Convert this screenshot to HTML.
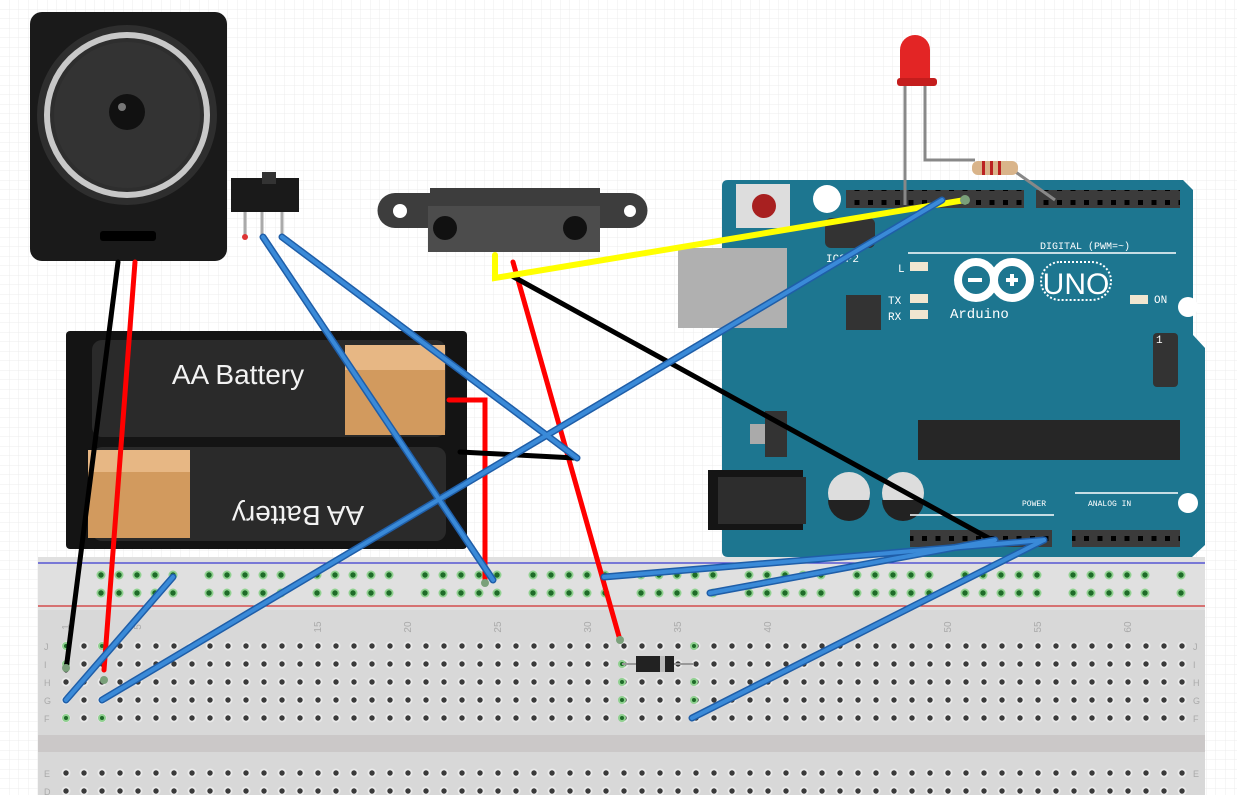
<!DOCTYPE html>
<html><head><meta charset="utf-8"><style>
html,body{margin:0;padding:0;background:#fff;}
svg{display:block;font-family:"Liberation Sans",sans-serif;}
</style></head><body>
<svg width="1237" height="795" viewBox="0 0 1237 795" xmlns="http://www.w3.org/2000/svg">
<defs>
<pattern id="grid" width="9.5" height="9.5" patternUnits="userSpaceOnUse"><path d="M9.5 0V9.5H0" fill="none" stroke="#ececec" stroke-width="1"/></pattern>
<pattern id="holes" x="57" y="637" width="18" height="18" patternUnits="userSpaceOnUse"><circle cx="9" cy="9" r="4.5" fill="#eaeaea"/><circle cx="9" cy="9" r="2.7" fill="#3a3a3a"/></pattern>
<pattern id="rail" x="92" y="566" width="108" height="18" patternUnits="userSpaceOnUse">
<g fill="#8fd08f"><circle cx="9" cy="9" r="4.5"/><circle cx="27" cy="9" r="4.5"/><circle cx="45" cy="9" r="4.5"/><circle cx="63" cy="9" r="4.5"/><circle cx="81" cy="9" r="4.5"/></g>
<g fill="#1e6b28"><circle cx="9" cy="9" r="2.7"/><circle cx="27" cy="9" r="2.7"/><circle cx="45" cy="9" r="2.7"/><circle cx="63" cy="9" r="2.7"/><circle cx="81" cy="9" r="2.7"/></g></pattern>
<pattern id="hdr" x="0" y="0" width="13.5" height="14" patternUnits="userSpaceOnUse"><rect width="13.5" height="14" fill="#3b3b3b"/><rect x="4" y="4" width="5" height="5" fill="#000"/></pattern>
</defs>
<rect width="1237" height="795" fill="url(#grid)"/>

<!-- Breadboard -->
<rect x="38" y="557" width="1167" height="238" fill="#d8d8d8"/>
<rect x="38" y="557" width="1167" height="53" fill="#e0e0e0"/>
<line x1="38" y1="563" x2="1205" y2="563" stroke="#3b3bd0" stroke-width="1.2"/>
<line x1="38" y1="606" x2="1205" y2="606" stroke="#d03030" stroke-width="1.2"/>
<rect x="92" y="566" width="1100" height="36" fill="url(#rail)"/>
<rect x="38" y="735" width="1167" height="17" fill="#cbc8c8"/>
<rect x="57" y="637" width="1135" height="90" fill="url(#holes)"/>
<rect x="57" y="764" width="1135" height="31" fill="url(#holes)" transform="translate(0,1)"/>
<g font-size="10" fill="#aaa" text-anchor="middle">
<text x="66" y="630" transform="rotate(-90 66 627)">1</text>
<text x="138" y="630" transform="rotate(-90 138 627)">5</text>
<text x="318" y="630" transform="rotate(-90 318 627)">15</text>
<text x="408" y="630" transform="rotate(-90 408 627)">20</text>
<text x="498" y="630" transform="rotate(-90 498 627)">25</text>
<text x="588" y="630" transform="rotate(-90 588 627)">30</text>
<text x="678" y="630" transform="rotate(-90 678 627)">35</text>
<text x="768" y="630" transform="rotate(-90 768 627)">40</text>
<text x="948" y="630" transform="rotate(-90 948 627)">50</text>
<text x="1038" y="630" transform="rotate(-90 1038 627)">55</text>
<text x="1128" y="630" transform="rotate(-90 1128 627)">60</text>
</g>
<g font-size="9" fill="#aaa">
<text x="44" y="650">J</text><text x="44" y="668">I</text><text x="44" y="686">H</text><text x="44" y="704">G</text><text x="44" y="722">F</text><text x="44" y="777">E</text><text x="44" y="795">D</text>
<text x="1193" y="650">J</text><text x="1193" y="668">I</text><text x="1193" y="686">H</text><text x="1193" y="704">G</text><text x="1193" y="722">F</text><text x="1193" y="777">E</text>
</g>
<!-- green highlighted holes -->
<g fill="#1e6b28" stroke="#8fd08f" stroke-width="2">
<circle cx="66" cy="646" r="3"/><circle cx="66" cy="664" r="3"/><circle cx="66" cy="718" r="3"/>
<circle cx="102" cy="646" r="3"/><circle cx="102" cy="718" r="3"/>
<circle cx="622" cy="664" r="3"/><circle cx="622" cy="682" r="3"/><circle cx="622" cy="700" r="3"/><circle cx="622" cy="718" r="3"/>
<circle cx="694" cy="646" r="3"/><circle cx="694" cy="682" r="3"/><circle cx="694" cy="700" r="3"/>
</g>

<!-- Speaker -->
<rect x="30" y="12" width="197" height="249" rx="12" fill="#1a1a1a"/>
<circle cx="127" cy="115" r="90" fill="#2e2e2e"/>
<circle cx="127" cy="115" r="80" fill="none" stroke="#c8c8c8" stroke-width="6"/>
<circle cx="127" cy="115" r="73" fill="#333"/>
<circle cx="127" cy="112" r="18" fill="#111"/>
<circle cx="122" cy="107" r="4" fill="#777"/>
<rect x="100" y="231" width="56" height="10" rx="3" fill="#000"/>

<!-- Switch -->
<rect x="231" y="178" width="68" height="34" fill="#1a1a1a"/>
<rect x="262" y="172" width="14" height="12" fill="#333"/>
<g stroke="#aaa" stroke-width="3"><line x1="245" y1="212" x2="245" y2="236"/><line x1="262" y1="212" x2="262" y2="236"/><line x1="282" y1="212" x2="282" y2="236"/></g>
<circle cx="245" cy="237" r="3" fill="#d33"/><circle cx="263" cy="237" r="3" fill="#6a6"/><circle cx="282" cy="237" r="3" fill="#6a6"/>

<!-- Battery pack -->
<rect x="66" y="331" width="401" height="218" rx="4" fill="#141414"/>
<rect x="92" y="340" width="354" height="97" rx="10" fill="#2a2a2a"/>
<rect x="345" y="345" width="100" height="90" fill="#d29a5e"/>
<rect x="345" y="345" width="100" height="25" fill="#e7b784"/>
<rect x="92" y="447" width="354" height="94" rx="10" fill="#2a2a2a"/>
<rect x="88" y="450" width="102" height="88" fill="#d29a5e"/>
<rect x="88" y="450" width="102" height="22" fill="#e7b784"/>
<text x="238" y="384" font-size="28" fill="#f2f2f2" text-anchor="middle">AA Battery</text>
<text x="298" y="488" font-size="28" fill="#f2f2f2" text-anchor="middle" transform="rotate(180 298 497)">AA Battery</text>

<!-- Sensor -->
<path d="M395 193 H430 V188 H600 V193 H630 A13 13 0 0 1 630 228 H600 V252 H430 V228 H395 A17 17 0 0 1 395 193Z" fill="#3d3d3d"/>
<circle cx="400" cy="211" r="7" fill="#fff"/><circle cx="630" cy="211" r="6" fill="#fff"/>
<rect x="428" y="206" width="172" height="46" fill="#4c4c4c"/>
<circle cx="445" cy="228" r="12" fill="#111"/><circle cx="575" cy="228" r="12" fill="#111"/>

<!-- Arduino -->
<path d="M722 186 Q722 180 728 180 H1183 L1193 190 V335 L1205 348 V545 L1192 557 H728 Q722 557 722 551Z" fill="#1d7690"/>
<rect x="736" y="184" width="54" height="44" fill="#ddd"/>
<circle cx="764" cy="206" r="12" fill="#a82020"/>
<rect x="678" y="248" width="109" height="80" fill="#b0b0b0"/>
<circle cx="827" cy="199" r="14" fill="#fff"/>
<circle cx="1188" cy="307" r="10" fill="#fff"/>
<circle cx="1188" cy="503" r="10" fill="#fff"/>
<rect x="846" y="190" width="178" height="18" fill="url(#hdr)"/>
<rect x="1036" y="190" width="144" height="18" fill="url(#hdr)"/>
<rect x="825" y="218" width="50" height="30" rx="6" fill="#333"/>
<rect x="1153" y="333" width="25" height="54" rx="4" fill="#333"/>
<rect x="846" y="295" width="35" height="35" fill="#333"/>
<rect x="765" y="411" width="22" height="46" fill="#333"/>
<rect x="750" y="424" width="15" height="20" fill="#aaa"/>
<rect x="918" y="420" width="262" height="40" fill="#262626"/>
<rect x="708" y="470" width="95" height="60" fill="#151515"/>
<rect x="718" y="477" width="88" height="47" fill="#2d2d2d"/>
<circle cx="849" cy="493" r="21" fill="#ddd"/><path d="M828 500 A21 21 0 0 0 870 500Z" fill="#222"/>
<circle cx="903" cy="493" r="21" fill="#ddd"/><path d="M882 500 A21 21 0 0 0 924 500Z" fill="#222"/>
<rect x="910" y="530" width="142" height="17" fill="url(#hdr)"/>
<rect x="1072" y="530" width="108" height="17" fill="url(#hdr)"/>
<line x1="908" y1="253" x2="1176" y2="253" stroke="#fff" stroke-width="1.5"/>
<line x1="910" y1="515" x2="1054" y2="515" stroke="#fff" stroke-width="1.5"/>
<line x1="1075" y1="493" x2="1178" y2="493" stroke="#fff" stroke-width="1.5"/>
<g fill="#fff" font-family="Liberation Mono,monospace" font-size="10">
<text x="1040" y="249">DIGITAL (PWM=~)</text>
<text x="1022" y="506" font-size="8">POWER</text>
<text x="1088" y="506" font-size="8">ANALOG IN</text>
<text x="898" y="272" font-size="11">L</text><text x="888" y="304" font-size="11">TX</text><text x="888" y="320" font-size="11">RX</text>
<text x="1154" y="303" font-size="11">ON</text>
<text x="1156" y="343" font-size="11">1</text>
<text x="826" y="262" font-size="11">ICSP2</text>
</g>
<g fill="#f0e6d0"><rect x="910" y="262" width="18" height="9"/><rect x="910" y="294" width="18" height="9"/><rect x="910" y="310" width="18" height="9"/><rect x="1130" y="295" width="18" height="9"/></g>
<g fill="#fff">
<circle cx="976" cy="280" r="18" fill="none" stroke="#fff" stroke-width="8"/>
<circle cx="1012" cy="280" r="18" fill="none" stroke="#fff" stroke-width="8"/>
<rect x="968" y="278" width="14" height="4"/><rect x="1006" y="278" width="12" height="4"/><rect x="1010" y="274" width="4" height="12"/>
<rect x="1041" y="262" width="70" height="38" rx="19" fill="none" stroke="#fff" stroke-width="2" stroke-dasharray="2 2"/>
<text x="1076" y="294" font-size="30" text-anchor="middle">UNO</text>
<text x="950" y="318" font-size="14" font-family="Liberation Mono,monospace">Arduino</text>
</g>

<!-- LED & resistor -->
<path d="M905 84 V205 M925 84 V160 H975" stroke="#888" stroke-width="3" fill="none"/>
<line x1="1010" y1="168" x2="1055" y2="200" stroke="#888" stroke-width="3"/>
<rect x="972" y="161" width="46" height="14" rx="6" fill="#d9b48a"/>
<g fill="#b22"><rect x="982" y="161" width="3" height="14"/><rect x="990" y="161" width="3" height="14"/><rect x="998" y="161" width="3" height="14"/></g>
<path d="M900 80 V50 A15 15 0 0 1 930 50 V80Z" fill="#e32525"/>
<rect x="897" y="78" width="40" height="8" rx="3" fill="#c41d1d"/>

<!-- Diode -->
<rect x="636" y="656" width="38" height="16" fill="#222"/><rect x="660" y="656" width="5" height="16" fill="#aaa"/>
<line x1="622" y1="664" x2="694" y2="664" stroke="#999" stroke-width="2"/>
<rect x="636" y="656" width="38" height="16" fill="#222"/><rect x="660" y="656" width="5" height="16" fill="#bbb"/>

<!-- Wires -->
<g fill="none" stroke-linecap="round">
<path d="M118 262 L66 670" stroke="#000" stroke-width="5"/>
<path d="M135 262 L104 670" stroke="#f00" stroke-width="5"/>
<path d="M449 400 H485 V580" stroke="#f00" stroke-width="5"/>
<path d="M513 262 L620 640" stroke="#f00" stroke-width="5"/>
<path d="M460 452 L575 458" stroke="#000" stroke-width="5"/>
<path d="M512 276 L992 540" stroke="#000" stroke-width="5"/>
<path d="M495 255 V278 L965 200" stroke="#ff0" stroke-width="6"/>
<g stroke="#1f5ea8" stroke-width="7">
<path d="M263 237 L493 580"/><path d="M282 237 L577 458"/><path d="M942 200 L102 700"/>
<path d="M173 577 L66 700"/><path d="M604 577 L1044 540"/><path d="M710 593 L995 540"/><path d="M692 718 L1044 540"/>
</g>
<g stroke="#3a8ad8" stroke-width="4">
<path d="M263 237 L493 580"/><path d="M282 237 L577 458"/><path d="M942 200 L102 700"/>
<path d="M173 577 L66 700"/><path d="M604 577 L1044 540"/><path d="M710 593 L995 540"/><path d="M692 718 L1044 540"/>
</g>
</g>
<g fill="#7aa07a"><circle cx="66" cy="668" r="4"/><circle cx="104" cy="680" r="4"/><circle cx="485" cy="583" r="4"/><circle cx="620" cy="640" r="4"/><circle cx="965" cy="200" r="5"/></g>
</svg>
</body></html>
